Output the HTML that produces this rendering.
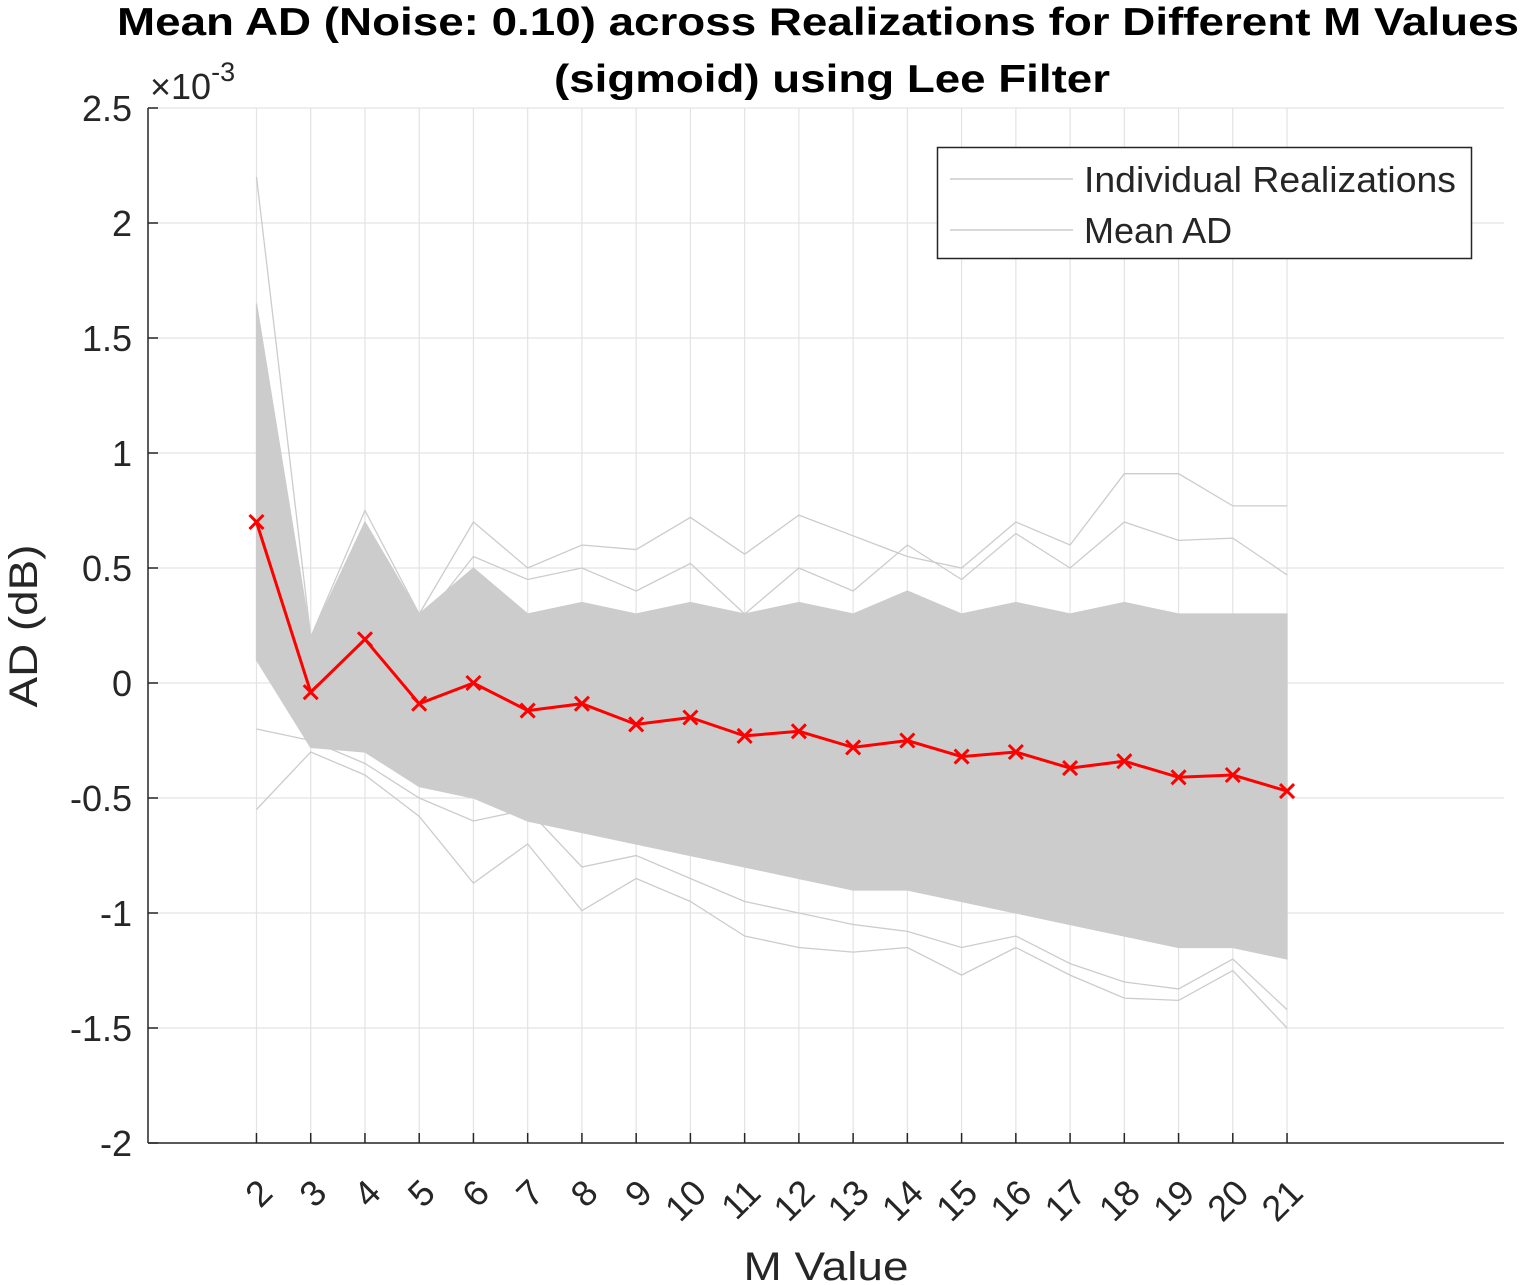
<!DOCTYPE html>
<html><head><meta charset="utf-8"><style>
html,body{margin:0;padding:0;background:#fff;}
svg{display:block;font-family:"Liberation Sans",Arial,sans-serif;}
</style></head><body>
<svg id="chart" width="1524" height="1285" viewBox="0 0 1524 1285" xmlns="http://www.w3.org/2000/svg">
<text x="818" y="35" text-anchor="middle" font-size="39" font-weight="bold" textLength="1402" lengthAdjust="spacingAndGlyphs">Mean AD (Noise: 0.10) across Realizations for Different M Values</text>
<text x="832" y="92" text-anchor="middle" font-size="39" font-weight="bold" textLength="556" lengthAdjust="spacingAndGlyphs">(sigmoid) using Lee Filter</text>
<g id="grid"></g>
<g id="band"></g>
<g id="axes"></g>
<g id="mean"></g>
<text x="150" y="99" font-size="36" fill="#262626">×10<tspan dy="-18" font-size="27">-3</tspan></text>
<text transform="translate(37,626) rotate(-90)" text-anchor="middle" font-size="40" fill="#262626" textLength="163" lengthAdjust="spacingAndGlyphs">AD (dB)</text>
<text x="826" y="1280" text-anchor="middle" font-size="40" fill="#262626" textLength="165" lengthAdjust="spacingAndGlyphs">M Value</text>
<g>
<rect x="937.5" y="147.5" width="534" height="111" fill="#fff" stroke="#262626" stroke-width="1.5"/>
<line x1="950" y1="179" x2="1073" y2="179" stroke="#cccccc" stroke-width="1.5"/>
<text x="1084" y="192" font-size="36" fill="#262626" textLength="372" lengthAdjust="spacingAndGlyphs">Individual Realizations</text>
<line x1="950" y1="230" x2="1073" y2="230" stroke="#cccccc" stroke-width="1.5"/>
<text x="1084" y="243" font-size="36" fill="#262626">Mean AD</text>
</g>
</svg>
<script>
const mValues=[2,3,4,5,6,7,8,9,10,11,12,13,14,15,16,17,18,19,20,21];
const meanAD=[0.70,-0.04,0.19,-0.09,0.00,-0.12,-0.09,-0.18,-0.15,-0.23,-0.21,-0.28,-0.25,-0.32,-0.30,-0.37,-0.34,-0.41,-0.40,-0.47];
const bandUpper=[1.65,0.2,0.7,0.3,0.5,0.3,0.35,0.3,0.35,0.3,0.35,0.3,0.4,0.3,0.35,0.3,0.35,0.3,0.3,0.3];
const bandLower=[0.1,-0.28,-0.3,-0.45,-0.5,-0.6,-0.65,-0.7,-0.75,-0.8,-0.85,-0.9,-0.9,-0.95,-1.0,-1.05,-1.1,-1.15,-1.15,-1.2];
const outlierHigh=[2.2,0.2,0.75,0.3,0.7,0.5,0.6,0.58,0.72,0.56,0.73,0.64,0.55,0.5,0.7,0.6,0.91,0.91,0.77,0.77];
const outlierHigh2=[1.4,0.15,0.6,0.25,0.55,0.45,0.5,0.4,0.52,0.3,0.5,0.4,0.6,0.45,0.65,0.5,0.7,0.62,0.63,0.47];
const outlierLow=[-0.55,-0.3,-0.4,-0.58,-0.87,-0.7,-0.99,-0.85,-0.95,-1.1,-1.15,-1.17,-1.15,-1.27,-1.15,-1.27,-1.37,-1.38,-1.25,-1.5];
const outlierLow2=[-0.2,-0.25,-0.35,-0.5,-0.6,-0.55,-0.8,-0.75,-0.85,-0.95,-1.0,-1.05,-1.08,-1.15,-1.1,-1.22,-1.3,-1.33,-1.2,-1.42];
const yTicks=[-2,-1.5,-1,-0.5,0,0.5,1,1.5,2,2.5];
const yTickLabels=["-2","-1.5","-1","-0.5","0","0.5","1","1.5","2","2.5"];
const NS="http://www.w3.org/2000/svg";
const L=148,R=1504,T=108,B=1143;
const x=v=>L+(v-0)/(25-0)*(R-L);
const y=v=>B-(v-(-2))/(4.5)*(B-T);
function el(tag,attrs,parent){const e=document.createElementNS(NS,tag);for(const k in attrs)e.setAttribute(k,attrs[k]);parent.appendChild(e);return e;}
const grid=document.getElementById('grid'),band=document.getElementById('band'),axes=document.getElementById('axes'),mean=document.getElementById('mean');
yTicks.forEach((t,i)=>{
 const g=el('line',{x1:L,x2:R,y1:y(t),y2:y(t),stroke:'#e3e3e3','stroke-width':1.2},grid);
 
 
 const tk=el('line',{x1:L,x2:L+10,y1:y(t),y2:y(t),stroke:'#262626','stroke-width':1.5},axes);
 
 
 const tx=el('text',{x:L-16,y:y(t)+13,'text-anchor':'end','font-size':36,fill:'#262626'},axes);
 tx.textContent=yTickLabels[i];
 
 
});
mValues.forEach(m=>{
 const g=el('line',{x1:x(m),x2:x(m),y1:T,y2:B,stroke:'#e3e3e3','stroke-width':1.2},grid);
 
 
 const tk=el('line',{x1:x(m),x2:x(m),y1:B,y2:B-10,stroke:'#262626','stroke-width':1.5},axes);
 
 
 const tx=el('text',{transform:`translate(${x(m)+18},${B+52}) rotate(-45)`,'text-anchor':'end','font-size':36,fill:'#262626'},axes);
 tx.textContent=String(m);
 
 
});
let pts=mValues.map((m,i)=>x(m)+','+y(bandUpper[i]));
pts=pts.concat(mValues.map((m,i)=>x(m)+','+y(bandLower[i])).reverse());
const poly=el('polygon',{points:pts.join(' '),fill:'#cccccc',stroke:'#cccccc','stroke-width':1.2},band);


[outlierHigh,outlierHigh2,outlierLow,outlierLow2].forEach(s=>{
 const p=el('polyline',{points:mValues.map((m,i)=>x(m)+','+y(s[i])).join(' '),fill:'none',stroke:'#cccccc','stroke-width':1.3},band);
 
 
});
const al=el('line',{x1:L,x2:L,y1:T,y2:B,stroke:'#262626','stroke-width':1.5},axes);


const ab=el('line',{x1:L,x2:R,y1:B,y2:B,stroke:'#262626','stroke-width':1.5},axes);


const ml=el('polyline',{points:mValues.map((m,i)=>x(m)+','+y(meanAD[i])).join(' '),fill:'none',stroke:'#ff0000','stroke-width':3},mean);


mValues.forEach((m,i)=>{
 const cx=x(m),cy=y(meanAD[i]),s=7;
 const p=el('path',{d:`M${cx-s},${cy-s}L${cx+s},${cy+s}M${cx-s},${cy+s}L${cx+s},${cy-s}`,stroke:'#ff0000','stroke-width':3},mean);
 
 
});
</script>
</body></html>
